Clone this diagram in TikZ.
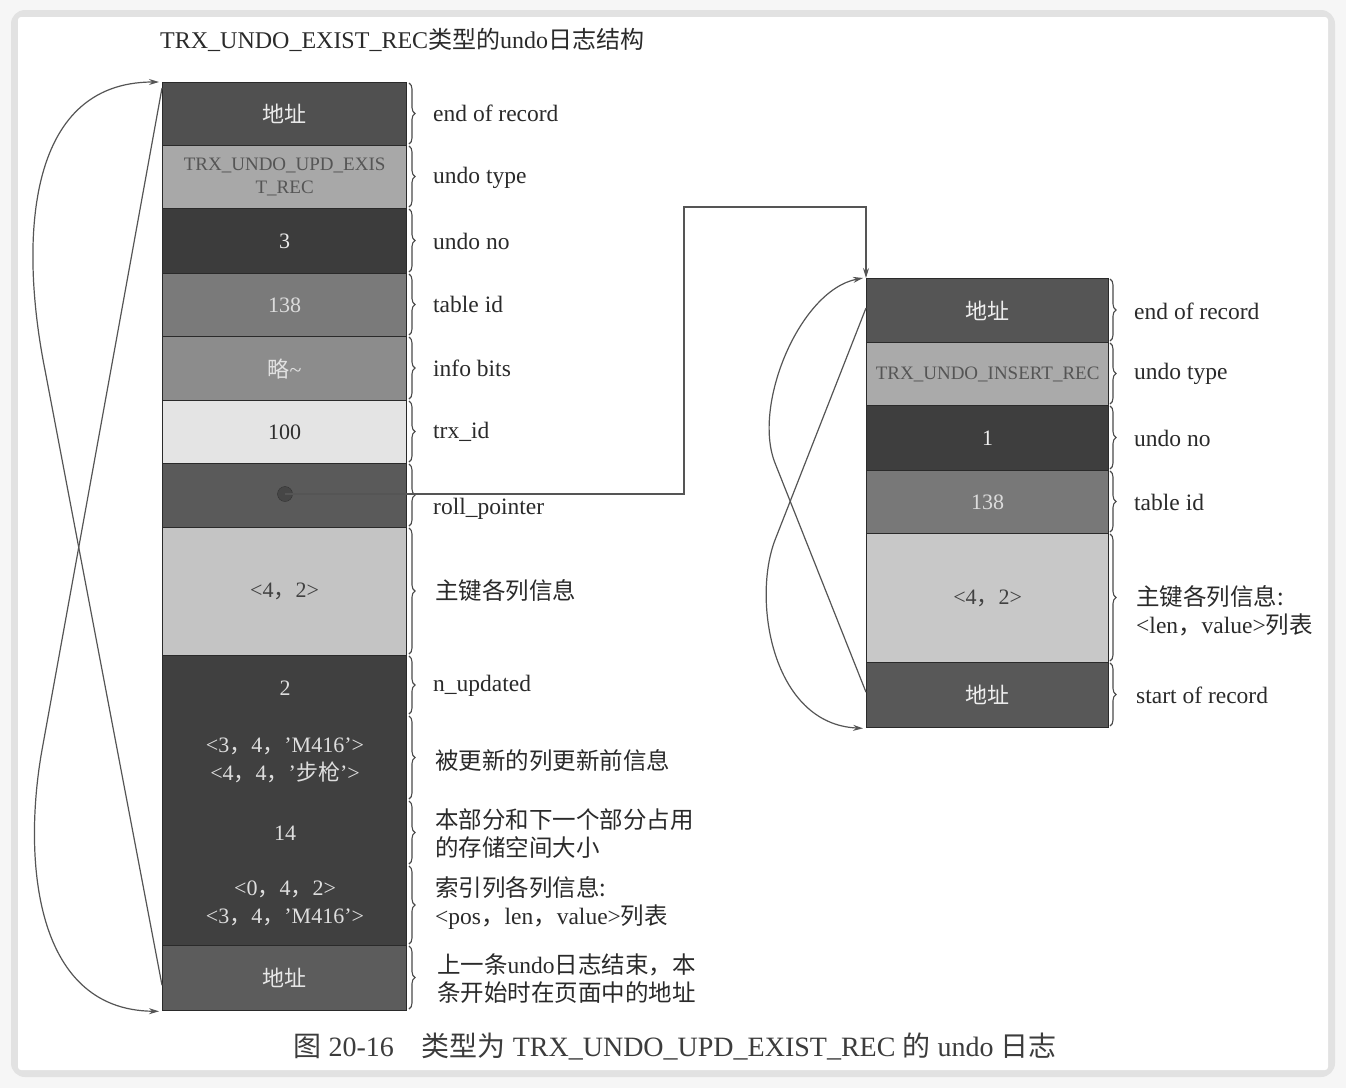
\documentclass[tikz,border=0pt]{standalone}
\usepackage{fontspec}
\setmainfont{Liberation Serif}
\newfontfamily\cjkf{Noto Sans CJK SC}
\newcommand\zh[1]{{\cjkf #1}}
\usetikzlibrary{arrows.meta,decorations.pathreplacing}

\definecolor{pagebg}{HTML}{F6F6F6}
\definecolor{pageedge}{HTML}{E2E2E2}
\definecolor{ink}{HTML}{2A2A2A}
\definecolor{wire}{HTML}{555555}
\definecolor{cellline}{HTML}{2A2A2A}

\begin{document}
\begin{tikzpicture}[x=1pt,y=-1pt,
  cell/.style={draw=cellline, line width=1.3pt, anchor=north west, inner sep=0pt,
               font=\fontsize{22}{27}\selectfont, align=center},
  lcell/.style={cell, minimum width=244pt},
  rcell/.style={cell, minimum width=242pt},
  lbl/.style={anchor=west, inner sep=0pt, text=ink, align=left,
              font=\fontsize{23.5}{28}\selectfont},
  celltext/.style={inner sep=0pt, align=center, font=\fontsize{22}{28}\selectfont},
  brace/.style={draw=ink!85, line width=1.1pt,
                decorate, decoration={brace, amplitude=6pt}},
  wirestyle/.style={draw=wire, line width=1.2pt},
  tip/.style={-{Stealth[length=10pt,width=6pt]}}
]
\useasboundingbox (0,0) rectangle (1346,1088);

% page
\fill[pagebg] (0,0) rectangle (1346,1088);
\fill[pageedge, rounded corners=14pt] (11,10) rectangle (1335,1077);
\fill[white, rounded corners=3pt] (18,17) rectangle (1328,1070);

% title
\node[anchor=west, inner sep=0pt, text=ink, font=\fontsize{24}{28}\selectfont] (title) at (160,40)
  {TRX\_UNDO\_EXIST\_REC\zh{类型的}undo\zh{日志结构}};

% ---------- left record ----------
\node[lcell, fill={rgb,255:red,80;green,80;blue,80}, minimum height=63pt, text={rgb,255:red,235;green,235;blue,235}] (L1) at (162,82) {\zh{地址}};
\node[lcell, fill={rgb,255:red,168;green,168;blue,168}, minimum height=63pt, text={rgb,255:red,85;green,85;blue,85},
      font=\fontsize{19}{23}\selectfont] (L2) at (162,145) {TRX\_UNDO\_UPD\_EXIS\\T\_REC};
\node[lcell, fill={rgb,255:red,60;green,60;blue,60}, minimum height=65pt, text={rgb,255:red,235;green,235;blue,235}] (L3) at (162,208) {3};
\node[lcell, fill={rgb,255:red,122;green,122;blue,122}, minimum height=63pt, text={rgb,255:red,220;green,220;blue,220}] (L4) at (162,273) {138};
\node[lcell, fill={rgb,255:red,140;green,140;blue,140}, minimum height=64pt, text={rgb,255:red,225;green,225;blue,225}] (L5) at (162,336) {\zh{略}\textasciitilde};
\node[lcell, fill={rgb,255:red,228;green,228;blue,228}, minimum height=63pt, text={rgb,255:red,45;green,45;blue,45}] (L6) at (162,400) {100};
\node[lcell, fill={rgb,255:red,90;green,90;blue,90}, minimum height=64pt] (L7) at (162,463) {};
\node[lcell, fill={rgb,255:red,196;green,196;blue,196}, minimum height=128pt, text={rgb,255:red,65;green,65;blue,65}] (L8) at (162,527) {<4\zh{，}2>};
\node[lcell, fill={rgb,255:red,64;green,64;blue,64}, minimum height=290pt] (L9) at (162,655) {};
\node[lcell, fill={rgb,255:red,92;green,92;blue,92}, minimum height=65pt, text={rgb,255:red,232;green,232;blue,232}] (L10) at (162,945) {\zh{地址}};

% values stacked inside the large block
\begin{scope}[every node/.style={celltext, text={rgb,255:red,222;green,222;blue,222}}]
  \node (v1) at (285,688) {2};
  \node (v2) at (285,760) {<3\zh{，}4\zh{，}'M416'>\\<4\zh{，}4\zh{，}'\zh{步枪}'>};
  \node (v3) at (285,833) {14};
  \node (v4) at (285,903) {<0\zh{，}4\zh{，}2>\\<3\zh{，}4\zh{，}'M416'>};
\end{scope}

% roll pointer dot
\node[circle, fill={rgb,255:red,70;green,70;blue,70}, draw={rgb,255:red,50;green,50;blue,50}, minimum size=15pt, inner sep=0pt] (rp) at (285,494) {};

% braces and labels of the left record
\foreach \a/\b in {82/145,145/208,208/273,273/336,336/400,400/463,463/527,527/655,655/715,715/800,800/865,865/945,945/1010}
  \draw[brace] (409,\a+1) -- (409,\b-1);

\node[lbl] (t1) at (433,113) {end of record};
\node[lbl] (t2) at (433,178) {undo type};
\node[lbl] (t3) at (433,241) {undo no};
\node[lbl] (t4) at (433,304) {table id};
\node[lbl] (t5) at (433,368) {info bits};
\node[lbl] (t6) at (433,432) {trx\_id};
\node[lbl] (t7) at (433,509) {roll\_pointer};
\node[lbl] (t8) at (435,590) {\zh{主键各列信息}};
\node[lbl] (t9) at (433,686) {n\_updated};
\node[lbl] (t10) at (435,760) {\zh{被更新的列更新前信息}};
\node[lbl] (t11) at (435,834) {\zh{本部分和下一个部分占用}\\\zh{的存储空间大小}};
\node[lbl] (t12) at (435,903) {\zh{索引列各列信息:}\\<pos\zh{，}len\zh{，}value>\zh{列表}};
\node[lbl] (t13) at (437,979) {\zh{上一条}undo\zh{日志结束，本}\\\zh{条开始时在页面中的地址}};

% ---------- right record ----------
\node[rcell, fill={rgb,255:red,85;green,85;blue,85}, minimum height=64pt, text={rgb,255:red,238;green,238;blue,238}] (R1) at (866,278) {\zh{地址}};
\node[rcell, fill={rgb,255:red,170;green,170;blue,170}, minimum height=63pt, text={rgb,255:red,85;green,85;blue,85},
      font=\fontsize{19}{23}\selectfont] (R2) at (866,342) {TRX\_UNDO\_INSERT\_REC};
\node[rcell, fill={rgb,255:red,62;green,62;blue,62}, minimum height=65pt, text={rgb,255:red,238;green,238;blue,238}] (R3) at (866,405) {1};
\node[rcell, fill={rgb,255:red,120;green,120;blue,120}, minimum height=63pt, text={rgb,255:red,220;green,220;blue,220}] (R4) at (866,470) {138};
\node[rcell, fill={rgb,255:red,200;green,200;blue,200}, minimum height=129pt, text={rgb,255:red,65;green,65;blue,65}] (R5) at (866,533) {<4\zh{，}2>};
\node[rcell, fill={rgb,255:red,88;green,88;blue,88}, minimum height=65pt, text={rgb,255:red,238;green,238;blue,238}] (R6) at (866,662) {\zh{地址}};

\foreach \a/\b in {278/342,342/405,405/470,470/533,533/662,662/727}
  \draw[brace] (1110,\a+1) -- (1110,\b-1);

\node[lbl] (s1) at (1134,311) {end of record};
\node[lbl] (s2) at (1134,374) {undo type};
\node[lbl] (s3) at (1134,438) {undo no};
\node[lbl] (s4) at (1134,502) {table id};
\node[lbl] (s5) at (1136,611) {\zh{主键各列信息:}\\<len\zh{，}value>\zh{列表}};
\node[lbl] (s6) at (1136,695) {start of record};

% ---------- connectors ----------
\coordinate (bend) at (684,207);
\draw[wirestyle, tip] (rp.center) -| (bend) -| (R1.north west);

% left record: start/end address links
\coordinate (la1) at (45,370);
\coordinate (lb1) at (42,750);
\draw[wirestyle, tip] ([yshift=-7pt]L10.west) -- (la1)
  .. controls (20,245) and (24,82) .. ([xshift=-3pt]L1.north west);
\draw[wirestyle, tip] ([yshift=-6pt]L1.north west) -- (lb1)
  .. controls (24,850) and (30,1010) .. ([xshift=-3pt]L10.south west);

% right record: start/end address links
\coordinate (rc1) at (775,540);
\coordinate (rd1) at (775,463);
\draw[wirestyle, tip] ([yshift=-30pt]R1.north west) -- (rc1)
  .. controls (752,600) and (772,724) .. ([xshift=-3pt]R6.south west);
\draw[wirestyle, tip] ([yshift=3pt]R6.west) -- (rd1)
  .. controls (752,405) and (800,290) .. ([xshift=-3pt]R1.north west);

% caption
\node[inner sep=0pt, text={rgb,255:red,60;green,60;blue,60}, font=\fontsize{28}{32}\selectfont] (cap) at (675,1046)
  {\zh{图} 20-16\hspace{1em}\zh{类型为}\hspace{0.25em}TRX\_UNDO\_UPD\_EXIST\_REC\hspace{0.25em}\zh{的}\hspace{0.25em}undo\hspace{0.25em}\zh{日志}};
\end{tikzpicture}
\end{document}
